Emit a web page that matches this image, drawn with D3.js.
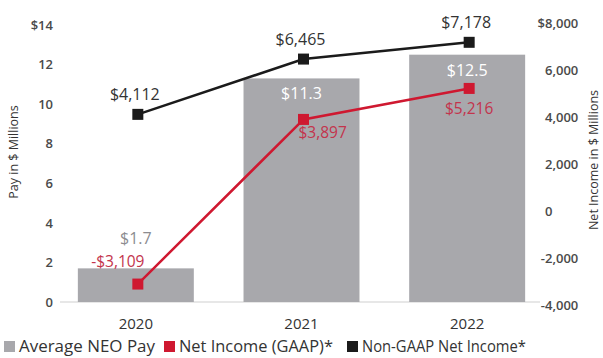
<!DOCTYPE html>
<html>
<head>
<meta charset="utf-8">
<script src="https://cdn.jsdelivr.net/npm/d3@7"></script>
<style>
  html, body { margin: 0; padding: 0; background: #fff; }
  svg { display: block; font-family: "Open Sans", "Noto Sans", sans-serif; }
</style>
</head>
<body>
<svg id="chart" width="603" height="358"></svg>
<script>
// Pay vs. performance, 2020–2022
const years = ["2020", "2021", "2022"];
const neoPay = [1.7, 11.3, 12.5];            // $ millions
const netIncomeGAAP = [-3109, 3897, 5216];   // $ millions
const nonGaapNetIncome = [4112, 6465, 7178]; // $ millions
const payTicks = [0, 2, 4, 6, 8, 10, 12, 14];
const incomeTicks = [-4000, -2000, 0, 2000, 4000, 6000, 8000];
const legendLabels = ["Average NEO Pay", "Net Income (GAAP)*", "Non-GAAP Net Income*"];

const colors = { bar: "#a8a8ac", red: "#cf1830", redText: "#c3344c", black: "#1b1b1b", tick: "#4a4a4a", text: "#333" };

const svg = d3.select("#chart");

const x = d3.scaleBand().domain(years).range([53, 550]).paddingInner(0.3).paddingOuter(0.15);
const yPay = d3.scaleLinear().domain([0, 14]).range([302, 25]);
const yInc = d3.scaleLinear().domain([-4000, 8000]).range([305, 23]);
const cx = yr => x(yr) + x.bandwidth() / 2;
const mx = yr => cx(yr) + 2;

const fmt = d3.format(",");
const signed = v => (v < 0 ? "-" : "") + fmt(Math.abs(v));
const money = v => (v < 0 ? "-$" : "$") + fmt(Math.abs(v));

// left axis
const axL = svg.append("g").attr("transform", "translate(56,0)")
  .call(d3.axisLeft(yPay).tickValues(payTicks).tickSize(0).tickPadding(3)
    .tickFormat(d => d === 14 ? "$14" : String(d)));
axL.select(".domain").remove();
axL.selectAll("text").attr("font-size", 13).attr("font-weight", 600)
  .attr("fill", colors.tick).attr("font-family", "Open Sans");

// right axis: digits line up, sign / currency prefix hangs to the left
const axR = svg.append("g").attr("transform", "translate(545,0)")
  .call(d3.axisRight(yInc).tickValues(incomeTicks).tickSize(0).tickPadding(0)
    .tickFormat(d => d === 8000 ? "$8,000" : signed(d)));
axR.select(".domain").remove();
axR.selectAll("text").attr("font-size", 13).attr("font-weight", 600)
  .attr("fill", colors.tick).attr("font-family", "Open Sans")
  .each(function(d) {
    const prefix = d === 8000 ? "$" : (d < 0 ? "-" : "");
    if (prefix) {
      const probe = axR.append("text").attr("font-size", 13).attr("font-weight", 600)
        .attr("font-family", "Open Sans").text(prefix);
      const w = probe.node().getComputedTextLength();
      probe.remove();
      d3.select(this).attr("dx", -w);
    }
  });

// axis titles
svg.append("text").attr("transform", "translate(18,152) rotate(-90)")
  .attr("text-anchor", "middle").attr("font-size", 12.5).attr("fill", colors.text)
  .text("Pay in $ Millions");
svg.append("text").attr("transform", "translate(598,160) rotate(-90)")
  .attr("text-anchor", "middle").attr("font-size", 12.5).attr("fill", colors.text)
  .text("Net Income in $ Millions");

// baseline
svg.append("line").attr("x1", 60).attr("x2", 540).attr("y1", yPay(0)).attr("y2", yPay(0))
  .attr("stroke", "#cfcfcf").attr("stroke-width", 1);

// bars
svg.append("g").selectAll("rect").data(years).join("rect")
  .attr("x", d => x(d)).attr("width", x.bandwidth())
  .attr("y", (d, i) => yPay(neoPay[i])).attr("height", (d, i) => yPay(0) - yPay(neoPay[i]))
  .attr("fill", colors.bar);

// bar labels: above the short bar, inside the tall ones
svg.append("g").selectAll("text").data(years).join("text")
  .attr("x", d => cx(d))
  .attr("y", (d, i) => neoPay[i] < 5 ? yPay(neoPay[i]) - 24 : yPay(neoPay[i]) + 21)
  .attr("text-anchor", "middle").attr("font-size", 16)
  .attr("fill", (d, i) => neoPay[i] < 5 ? "#8c8c90" : "#fff")
  .text((d, i) => "$" + neoPay[i].toFixed(1));

// lines
const line = (vals) => d3.line().x((d, i) => mx(years[i])).y(d => yInc(d))(vals);
svg.append("path").attr("d", line(nonGaapNetIncome)).attr("fill", "none")
  .attr("stroke", colors.black).attr("stroke-width", 2.5);
svg.append("path").attr("d", line(netIncomeGAAP)).attr("fill", "none")
  .attr("stroke", colors.red).attr("stroke-width", 2.5);

// markers
const ms = 11;
svg.append("g").selectAll("rect").data(nonGaapNetIncome).join("rect")
  .attr("x", (d, i) => mx(years[i]) - ms / 2).attr("y", d => yInc(d) - ms / 2)
  .attr("width", ms).attr("height", ms).attr("fill", colors.black);
svg.append("g").selectAll("rect").data(netIncomeGAAP).join("rect")
  .attr("x", (d, i) => mx(years[i]) - ms / 2).attr("y", d => yInc(d) - ms / 2)
  .attr("width", ms).attr("height", ms).attr("fill", colors.red);

// non-GAAP labels above markers
svg.append("g").selectAll("text").data(nonGaapNetIncome).join("text")
  .attr("x", (d, i) => mx(years[i]) - 3).attr("y", d => yInc(d) - 14)
  .attr("text-anchor", "middle").attr("font-size", 16).attr("fill", colors.text)
  .text(money);

// GAAP labels: first above-left, others below
const redPlace = [
  { dx: -20, dy: -17, anchor: "middle" },
  { dx: -5, dy: 19, anchor: "start" },
  { dx: 0, dy: 26, anchor: "middle" }
];
svg.append("g").selectAll("text").data(netIncomeGAAP).join("text")
  .attr("x", (d, i) => mx(years[i]) + redPlace[i].dx).attr("y", (d, i) => yInc(d) + redPlace[i].dy)
  .attr("text-anchor", (d, i) => redPlace[i].anchor).attr("font-size", 15.5).attr("fill", colors.redText)
  .text(money);

// year labels
svg.append("g").selectAll("text").data(years).join("text")
  .attr("x", d => cx(d)).attr("y", 329)
  .attr("text-anchor", "middle").attr("font-size", 15).attr("fill", colors.text)
  .text(d => d);

// legend
const legendColors = [colors.bar, colors.red, colors.black];
const legendX = [4, 164, 347];
const legendW = [136, 154, 164];
const lg = svg.append("g").selectAll("g").data(legendLabels).join("g")
  .attr("transform", (d, i) => `translate(${legendX[i]},341)`);
lg.append("rect").attr("width", 11).attr("height", 11).attr("fill", (d, i) => legendColors[i]);
lg.append("text").attr("x", 15).attr("y", 11).attr("font-size", 15.5).attr("fill", colors.text)
  .attr("textLength", (d, i) => legendW[i]).attr("lengthAdjust", "spacingAndGlyphs")
  .text(d => d);
</script>
</body>
</html>
